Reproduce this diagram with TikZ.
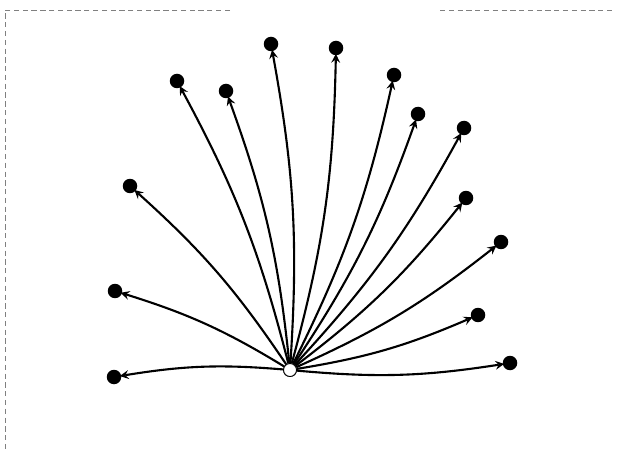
\documentclass[tikz,border=0pt]{standalone}
\usepackage{tikz}
\usetikzlibrary{arrows,positioning}
\tikzset{
	>=stealth,
	hub/.style={circle, draw, fill=white, line width=0.5pt, minimum size=0.26cm, inner sep=0pt},
	leaf/.style={circle, fill=black, minimum size=0.29cm, inner sep=0pt},
	spoke/.style={->, line width=1.2pt, bend right=7, shorten >=-1pt},
	scanedge/.style={gray, densely dashed, line width=0.4pt}
}
\begin{document}
\begin{tikzpicture}[x=0.02cm, y=-0.02cm]

	\useasboundingbox (0,0) rectangle (621,452);

	% --- Frame ---
	\coordinate (tl) at (5,10);
	\coordinate (tm) at (230,10);
	\coordinate (tr) at (440,10);
	\coordinate (te) at (612,10);
	\coordinate (bl) at (5,452);
	\draw[scanedge] (tm) -- (tl) -- (bl);
	\draw[scanedge] (tr) -- (te);

	% --- Nodes ---
	\node[leaf] (n1) at (114,377) {};
	\node[leaf] (n2) at (115,291) {};
	\node[leaf] (n3) at (130,186) {};
	\node[leaf] (n4) at (177,81) {};
	\node[leaf] (n5) at (226,91) {};
	\node[leaf] (n6) at (271,44) {};
	\node[leaf] (n7) at (336,48) {};
	\node[leaf] (n8) at (394,75) {};
	\node[leaf] (n9) at (418,114) {};
	\node[leaf] (n10) at (464,128) {};
	\node[leaf] (n11) at (466,198) {};
	\node[leaf] (n12) at (501,242) {};
	\node[leaf] (n13) at (478,315) {};
	\node[leaf] (n14) at (510,363) {};

	\node[hub] (hub) at (290,370) {};

	% --- Connections ---
	\draw[spoke] (hub) to (n1);
	\draw[spoke] (hub) to (n2);
	\draw[spoke] (hub) to (n3);
	\draw[spoke] (hub) to (n4);
	\draw[spoke] (hub) to (n5);
	\draw[spoke] (hub) to (n6);
	\draw[spoke] (hub) to (n7);
	\draw[spoke] (hub) to (n8);
	\draw[spoke] (hub) to (n9);
	\draw[spoke] (hub) to (n10);
	\draw[spoke] (hub) to (n11);
	\draw[spoke] (hub) to (n12);
	\draw[spoke] (hub) to (n13);
	\draw[spoke] (hub) to (n14);

	% hub drawn again on top
	\node[hub] at (hub) {};

\end{tikzpicture}
\end{document}
